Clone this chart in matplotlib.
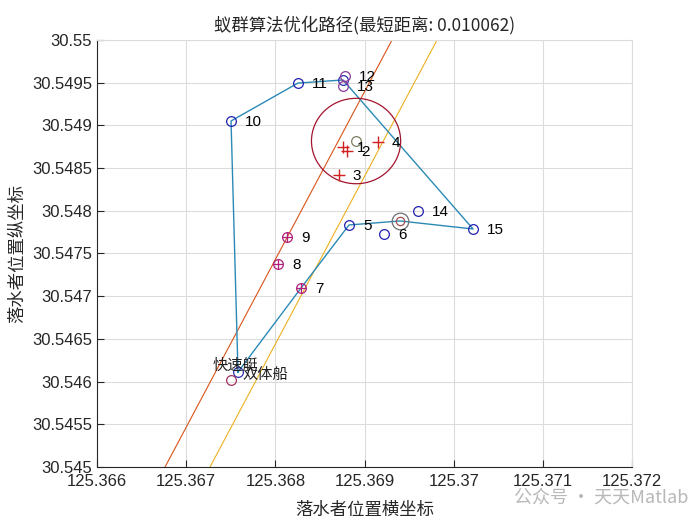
import matplotlib
matplotlib.use("Agg")
import matplotlib.pyplot as plt
from matplotlib.patches import Circle
from matplotlib.ticker import FixedLocator

plt.rcParams['font.family'] = ['Liberation Sans', 'Noto Sans CJK SC', 'DejaVu Sans']

# ---- data ----
target_ids = [str(i) for i in range(1, 16)]
target_x = [125.368759, 125.368804, 125.368714, 125.369151, 125.368826, 125.369219,
            125.368288, 125.368030, 125.368131, 125.367503, 125.368254, 125.368781,
            125.368759, 125.369600, 125.370217]
target_y = [30.548747, 30.548700, 30.548419, 30.548806, 30.547834, 30.547728,
            30.547096, 30.547377, 30.547693, 30.549052, 30.549496, 30.549578,
            30.549461, 30.547998, 30.547787]
target_kind = ['cross', 'cross', 'cross', 'cross', 'blue', 'blue',
               'oplus', 'oplus', 'oplus', 'blue', 'blue', 'purple',
               'purple', 'blue', 'blue']

path_x = [125.367581, 125.368288, 125.368826, 125.369398, 125.370217,
          125.368759, 125.368254, 125.367503, 125.367581]
path_y = [30.546112, 30.547096, 30.547834, 30.547881, 30.547787,
          30.549532, 30.549496, 30.549052, 30.546112]

center_x, center_y, center_r = 125.368905, 30.548817, 0.0005
double_x, double_y = 125.369398, 30.547881
boat2_x, boat2_y = 125.367503, 30.546019

boundary1_x = [125.366763, 125.369308]
boundary1_y = [30.545, 30.550]
boundary2_x = [125.367267, 125.369813]
boundary2_y = [30.545, 30.550]

boat_names = ['快速艇', '双体船']
boat_text_x = [125.367301, 125.367626]
boat_text_y = [30.546194, 30.546089]

x_ticks = [125.366, 125.367, 125.368, 125.369, 125.370, 125.371, 125.372]
x_tick_labels = ['125.366', '125.367', '125.368', '125.369', '125.37', '125.371', '125.372']
y_ticks = [30.545, 30.5455, 30.546, 30.5465, 30.547, 30.5475, 30.548, 30.5485,
           30.549, 30.5495, 30.55]
y_tick_labels = ['30.545', '30.5455', '30.546', '30.5465', '30.547', '30.5475',
                 '30.548', '30.5485', '30.549', '30.5495', '30.55']

title_text = '蚁群算法优化路径(最短距离: 0.010062)'
xlabel_text = '落水者位置横坐标'
ylabel_text = '落水者位置纵坐标'
watermark = '公众号 · 天天Matlab'

# ---- plot ----
fig = plt.figure(figsize=(7, 5.25), dpi=100)
ax = fig.add_axes([0.1386, 0.1105, 0.7643, 0.8133])

ax.plot(boundary1_x, boundary1_y, color='#D95319', lw=0.8, zorder=2)
ax.plot(boundary2_x, boundary2_y, color='#EDB120', lw=0.8, zorder=2)

ax.plot(path_x, path_y, color='#2b8ab5', lw=1.0, zorder=3)

ax.add_patch(Circle((center_x, center_y), center_r, fill=False,
                    edgecolor='#A2142F', lw=0.9, zorder=3))
ax.plot([center_x], [center_y], 'o', mfc='none', mec='#7a8060', ms=7, mew=0.9, zorder=4)

ax.plot([double_x], [double_y], 'o', mfc='none', mec='#707070', ms=12, mew=0.9, zorder=4)
ax.plot([double_x], [double_y], 'o', mfc='none', mec='#a05050', ms=6, mew=0.9, zorder=4)

ax.plot([path_x[0]], [path_y[0]], 'o', mfc='none', mec='#3030b0', ms=7, mew=0.9, zorder=4)
ax.plot([path_x[5]], [path_y[5]], 'o', mfc='none', mec='#3030b0', ms=7, mew=0.9, zorder=4)
ax.plot([boat2_x], [boat2_y], 'o', mfc='none', mec='#a03060', ms=7, mew=0.9, zorder=4)

for tx, ty, kind in zip(target_x, target_y, target_kind):
    if kind == 'cross':
        ax.plot([tx], [ty], '+', color='#d02020', ms=9, mew=1.0, zorder=4)
    elif kind == 'blue':
        ax.plot([tx], [ty], 'o', mfc='none', mec='#2020b0', ms=7, mew=0.9, zorder=4)
    elif kind == 'purple':
        ax.plot([tx], [ty], 'o', mfc='none', mec='#8a3a9a', ms=7, mew=0.9, zorder=4)
    else:
        ax.plot([tx], [ty], 'o', mfc='none', mec='#b0207a', ms=7, mew=0.9, zorder=4)
        ax.plot([tx], [ty], '+', color='#b0207a', ms=7, mew=0.9, zorder=4)

for tid, tx, ty in zip(target_ids, target_x, target_y):
    ax.annotate(tid, (tx, ty), xytext=(10, -1), textcoords='offset points',
                ha='left', va='center', fontsize=11, color='black', zorder=5)

for name, bx, by in zip(boat_names, boat_text_x, boat_text_y):
    ax.text(bx, by, name, ha='left', va='center', fontsize=11,
            family=['Noto Sans CJK SC', 'DejaVu Sans'], color='#202020', zorder=5)

ax.set_xlim(125.366, 125.372)
ax.set_ylim(30.545, 30.550)
ax.xaxis.set_major_locator(FixedLocator(x_ticks))
ax.yaxis.set_major_locator(FixedLocator(y_ticks))
ax.set_xticklabels(x_tick_labels)
ax.set_yticklabels(y_tick_labels)
ax.tick_params(direction='in', length=5, width=0.8, labelsize=12, colors='#262626',
               top=False, right=False)
ax.tick_params(axis='x', pad=5)
ax.grid(True, color='#dcdcdc', lw=0.8)
ax.set_axisbelow(True)
for side in ['top', 'right']:
    ax.spines[side].set_color('#dcdcdc')
    ax.spines[side].set_linewidth(0.8)
for side in ['left', 'bottom']:
    ax.spines[side].set_color('#262626')
    ax.spines[side].set_linewidth(0.8)

ax.set_title(title_text, fontsize=12.5, color='#262626', pad=7,
             family=['Noto Sans CJK SC', 'DejaVu Sans'])
ax.set_xlabel(xlabel_text, fontsize=12.5, color='#262626', labelpad=9,
              family=['Noto Sans CJK SC', 'DejaVu Sans'])
ax.set_ylabel(ylabel_text, fontsize=12.5, color='#262626', labelpad=4,
              family=['Noto Sans CJK SC', 'DejaVu Sans'])

fig.text(0.735, 0.052, watermark, fontsize=13, color='#b8b8b8', ha='left', va='center',
         family=['Noto Sans CJK SC', 'DejaVu Sans'])

fig.savefig('out.png', dpi=100)
